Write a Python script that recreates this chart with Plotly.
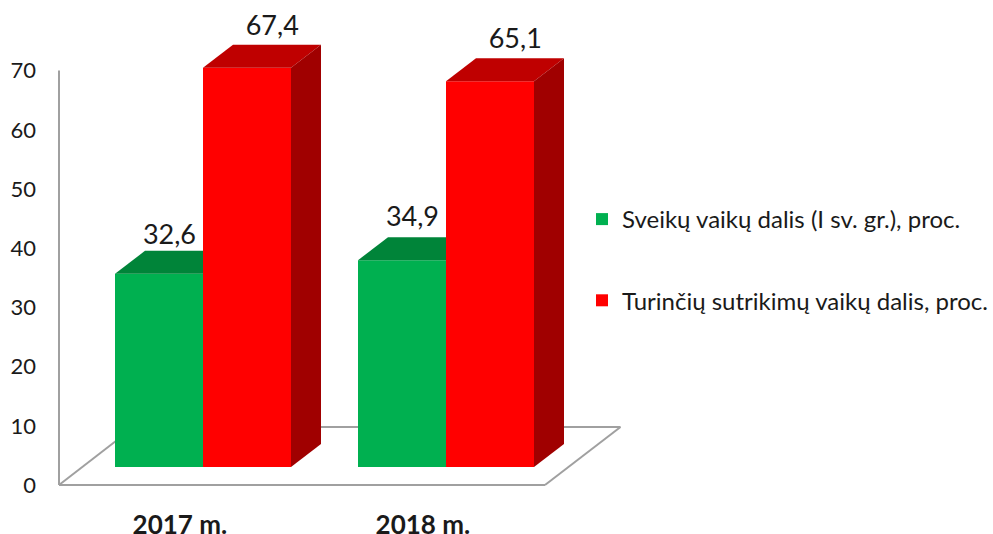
import plotly.graph_objects as go

categories = ["2017 m.", "2018 m."]
series_names = ["Sveikų vaikų dalis (I sv. gr.), proc.", "Turinčių sutrikimų vaikų dalis, proc."]
healthy = [32.6, 34.9]
disorders = [67.4, 65.1]
value_text_healthy = ["32,6", "34,9"]
value_text_disorders = ["67,4", "65,1"]
tick_values = [0, 10, 20, 30, 40, 50, 60, 70]

W, H = 993, 534
PLOT_B = 507            # bottom of the plot area in px
X0, XS = 203, 243       # px of category 0, px per category
Y0, YS = 467, 5.925     # bar plane: px of value 0, px per unit
A0, AS = 485, 5.92      # wall scale: px of value 0, px per unit
BAR = 88 / XS
DX, DY = 30 / XS, 23 / YS
FONT = "Lato"
TXT = "#1a1a1a"
GRID = "#a0a0a0"

def xd(p):  return (p - X0) / XS
def wall(p): return (A0 - p) / AS

idx = [0, 1]
fig = go.Figure()

colors = [("#00B050", "#008439", "#006E30"), ("#FF0000", "#BF0000", "#A00000")]
for name, vals, col in zip(series_names, [healthy, disorders], colors):
    fig.add_trace(go.Bar(x=idx, y=vals, name=name, marker=dict(color=col[0], line_width=0),
                         legendgroup=name, hoverinfo="y"))

def face(xs, ys, color):
    fig.add_trace(go.Scatter(x=xs, y=ys, mode="lines", fill="toself", fillcolor=color,
                             line=dict(width=0), showlegend=False, hoverinfo="skip"))

for i in idx:
    # green top, hidden behind the taller red neighbour
    l = i - BAR
    v = healthy[i]
    face([l, l + DX, i, i, l], [v, v + DY, v + DY, v, v], colors[0][1])
    # red top and side
    v = disorders[i]
    r = i + BAR
    face([i, i + DX, r + DX, r, i], [v, v + DY, v + DY, v, v], colors[1][1])
    face([r, r + DX, r + DX, r, r], [v, v + DY, DY, 0, v], colors[1][2])

# value labels
for vals, txt, off, lift in [(healthy, value_text_healthy, -0.138, [6.2, 6.9]),
                             (disorders, value_text_disorders, 0.285, [6.7, 6.8])]:
    fig.add_trace(go.Scatter(x=[i + off for i in idx], y=[v + d for v, d in zip(vals, lift)], mode="text",
                             text=txt, textposition="middle center",
                             textfont=dict(family=FONT, size=27, color=TXT),
                             showlegend=False, hoverinfo="skip"))

# wall and floor drawn in layout coordinates from the axes
floor = [(59, 485), (545, 485), (620.5, 427), (134, 427), (59, 485)]
shapes = [dict(type="line", layer="below", xref="x", yref="y2", x0=xd(59), x1=xd(59), y0=0, y1=70,
               line=dict(color=GRID, width=2))]
for a, b in zip(floor[:-1], floor[1:]):
    shapes.append(dict(type="line", layer="below", xref="x", yref="y2",
                       x0=xd(a[0]), x1=xd(b[0]), y0=wall(a[1]), y1=wall(b[1]),
                       line=dict(color=GRID, width=2)))

fig.update_layout(
    width=W, height=H, autosize=False,
    margin=dict(l=0, r=0, t=0, b=H - PLOT_B, pad=0, autoexpand=False),
    paper_bgcolor="white", plot_bgcolor="white",
    barmode="group", bargap=1 - 2 * BAR, bargroupgap=0,
    font=dict(family=FONT, color=TXT),
    shapes=shapes,
    xaxis=dict(range=[xd(0), xd(W)], tickmode="array", tickvals=[i - 0.095 for i in idx], ticktext=[f"<b>{c}</b>" for c in categories],
               tickfont=dict(family=FONT, size=26, color=TXT), showgrid=False, zeroline=False,
               showline=False, ticks="", fixedrange=True),
    yaxis=dict(range=[(Y0 - PLOT_B) / YS, Y0 / YS], visible=False, showgrid=False, zeroline=False, fixedrange=True),
    yaxis2=dict(range=[wall(PLOT_B), wall(0)], overlaying="y", anchor="free", side="left", position=36 / W,
                tickmode="array", tickvals=tick_values, tickfont=dict(family=FONT, size=22, color=TXT),
                showgrid=False, zeroline=False, showline=False, ticks="", fixedrange=True),
    legend=dict(x=582 / W, y=1 - 197 / PLOT_B, xanchor="left", yanchor="top", orientation="v",
                font=dict(family=FONT, size=24, color=TXT), tracegroupgap=47, itemwidth=30,
                bgcolor="rgba(0,0,0,0)", traceorder="grouped"),
    showlegend=True,
)
# a hidden trace ties the wall axis to the figure
fig.add_trace(go.Scatter(x=[None], y=[None], yaxis="y2", showlegend=False, hoverinfo="skip"))
fig.write_html("out.html", config={"displayModeBar": False}, post_script="document.body.style.margin='0';")
